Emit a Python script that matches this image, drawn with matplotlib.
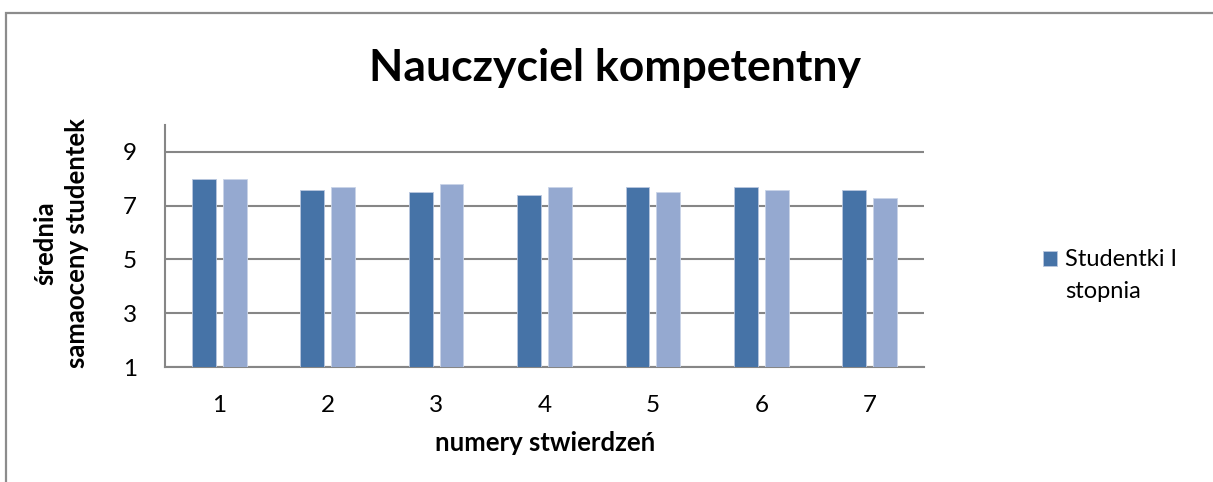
import numpy as np
import matplotlib
matplotlib.use('Agg')
import matplotlib.pyplot as plt
from matplotlib.patches import Rectangle

# Data ===============================================================
categories = ['1', '2', '3', '4', '5', '6', '7']
studentki_I = [8.0, 7.6, 7.5, 7.4, 7.7, 7.7, 7.6]
studentki_II = [8.0, 7.7, 7.8, 7.7, 7.5, 7.6, 7.3]
y_ticks = [1, 3, 5, 7, 9]

title = 'Nauczyciel kompetentny'
x_label = 'numery stwierdzeń'
y_label = 'średnia\nsamaoceny studentek'
legend_label = ['Studentki I', 'stopnia']


def main():
    plt.rcParams['font.family'] = ['Lato', 'DejaVu Sans']

    fig = plt.figure(figsize=(12.13, 4.82), dpi=100)
    # outer chart frame (cropped on right/bottom like the source)
    fig.patches.append(Rectangle((6/1213, -0.1), 1.2, 1 - 13/482 + 0.1,
                                 transform=fig.transFigure, fill=False,
                                 edgecolor='#8c8c8c', linewidth=1.6))

    ax = fig.add_axes([165/1213, 1 - 367/482, (924-165)/1213, (367-125)/482])

    x = np.arange(len(categories))
    wdth = 0.22
    off = 0.142
    c_dark = '#4673A7'
    c_light = '#95A9D0'
    b1 = ax.bar(x - off, np.array(studentki_I) - 1, wdth, bottom=1, color=c_dark,
                edgecolor='#b9c7df', linewidth=0.6, zorder=3)
    ax.bar(x + off, np.array(studentki_II) - 1, wdth, bottom=1, color=c_light,
           edgecolor='#c9d4e8', linewidth=0.6, zorder=3)

    ax.set_xlim(-0.5, len(categories) - 0.5)
    ax.set_ylim(1, 10)
    ax.set_yticks(y_ticks)
    ax.set_xticks(x)
    ax.set_xticklabels(categories)
    ax.tick_params(axis='both', length=0, labelsize=17.5, colors='black')
    ax.tick_params(axis='y', pad=20)
    ax.tick_params(axis='x', pad=20)
    ax.yaxis.grid(True, color='#868686', linewidth=1.5, zorder=0)
    ax.set_axisbelow(True)
    for s in ['top', 'right']:
        ax.spines[s].set_visible(False)
    for s in ['left', 'bottom']:
        ax.spines[s].set_color('#868686')
        ax.spines[s].set_linewidth(1.5)

    fig.text(615/1213, 1 - 68/482, title, ha='center', va='center',
             fontsize=32, fontweight='bold')
    fig.text(545/1213, 1 - 443/482, x_label, ha='center', va='center',
             fontsize=18.5, fontweight='bold')
    fig.text(61/1213, 1 - 243/482, y_label, ha='center', va='center',
             rotation=90, fontsize=18.5, fontweight='bold', linespacing=1.4)

    # legend: handle aligned with first line, second line wrapped below
    leg = fig.legend(handles=[b1], labels=[legend_label[0]], loc='center left',
                     bbox_to_anchor=(1031/1213, 1 - 260/482), frameon=False,
                     fontsize=17, handlelength=0.6, handleheight=0.6,
                     handletextpad=0.35, borderpad=0, labelspacing=0)
    fig.canvas.draw()
    bb = leg.get_texts()[0].get_window_extent()
    fig.text(bb.x0 / fig.bbox.width, 1 - 292/482, legend_label[1],
             ha='left', va='center', fontsize=17)

    fig.savefig('out.png', dpi=100)
    plt.close('all')


if __name__ == '__main__':
    main()
